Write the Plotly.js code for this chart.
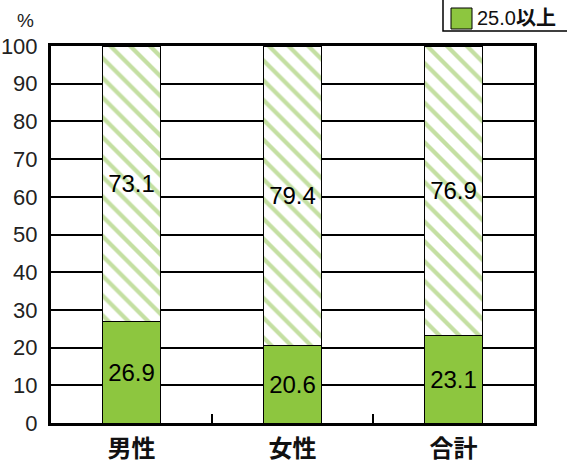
<!DOCTYPE html>
<html><head><meta charset="utf-8">
<script src="https://cdn.plot.ly/plotly-3.0.1.min.js"></script>
<style>html,body{margin:0;padding:0;background:#fff;}#chart{width:567px;height:463px;}</style>
</head><body><div id="chart"></div>
<script>
const categories = ['男性', '女性', '合計'];
const over25 = [26.9, 20.6, 23.1];
const under25 = [73.1, 79.4, 76.9];
const seriesNames = ['25.0以上', '25.0未満'];
const yTicks = [0, 10, 20, 30, 40, 50, 60, 70, 80, 90, 100];

const numFont = {family: 'Liberation Sans, Arial, sans-serif', size: 24, color: '#000'};

const traces = [
  {
    type: 'bar', name: seriesNames[0], x: categories, y: over25,
    text: over25.map(v => v.toFixed(1)), textposition: 'inside', insidetextanchor: 'middle',
    textfont: numFont, textangle: 0, constraintext: 'none', cliponaxis: false,
    marker: {color: '#8dc63f', line: {color: '#000', width: 1}},
    hoverinfo: 'none', showlegend: false
  },
  {
    type: 'bar', name: seriesNames[1], x: categories, y: under25,
    text: under25.map(v => v.toFixed(1)), textposition: 'inside', insidetextanchor: 'middle',
    textfont: numFont, textangle: 0, constraintext: 'none', cliponaxis: false,
    marker: {color: '#ffffff', line: {color: '#000', width: 1},
      pattern: {shape: '\\', fgcolor: '#c4dfa2', bgcolor: '#ffffff', size: 14, solidity: 0.3}},
    hoverinfo: 'none', showlegend: false
  }
];

const W = 567, H = 463, ml = 51, mr = 33, mt = 46, mb = 40;
const pw = W - ml - mr, ph = H - mt - mb;
const px = x => (x - ml) / pw;
const py = y => (H - mb - y) / ph;

const layout = {
  width: W, height: H,
  margin: {l: ml, r: mr, t: mt, b: mb, pad: 0},
  paper_bgcolor: '#fff', plot_bgcolor: '#fff',
  barmode: 'stack', bargap: 0.64,
  showlegend: false,
  font: {family: 'Liberation Sans, Arial, sans-serif', color: '#222'},
  xaxis: {
    type: 'category', showline: true, linecolor: '#000', linewidth: 3, mirror: true,
    ticks: 'inside', tickson: 'boundaries', ticklen: 9, tickwidth: 2, tickcolor: '#000',
    tickfont: {family: 'Noto Sans CJK JP, sans-serif', size: 24, color: '#111', weight: 'bold'},
    ticklabelstandoff: 2,
    showgrid: false, fixedrange: true
  },
  yaxis: {
    range: [0, 100], tickvals: yTicks, ticktext: yTicks.map(String),
    showline: true, linecolor: '#000', linewidth: 3, mirror: true,
    showgrid: true, gridcolor: '#000', gridwidth: 2, zeroline: false,
    ticks: '', ticklabelstandoff: 6,
    tickfont: {family: 'Liberation Sans, Arial, sans-serif', size: 22, color: '#222'},
    fixedrange: true
  },
  shapes: [
    {type: 'rect', xref: 'paper', yref: 'paper', x0: px(443), x1: px(600), y0: py(31), y1: py(-40),
     line: {color: '#000', width: 1.5}, fillcolor: 'rgba(0,0,0,0)', layer: 'above'},
    {type: 'rect', xref: 'paper', yref: 'paper', x0: px(451), x1: px(472), y0: py(29), y1: py(8),
     line: {color: '#000', width: 1}, fillcolor: '#8dc63f', layer: 'above'}
  ],
  annotations: [
    {xref: 'paper', yref: 'paper', x: px(475), y: py(18), xanchor: 'left', yanchor: 'middle',
     text: '25.0<b>以上</b>', showarrow: false,
     font: {family: 'Liberation Sans, Noto Sans CJK JP, sans-serif', size: 20, color: '#111'}},
    {xref: 'paper', yref: 'paper', x: px(25), y: py(20), xanchor: 'center', yanchor: 'middle',
     text: '%', showarrow: false,
     font: {family: 'Liberation Sans, Arial, sans-serif', size: 19, color: '#222'}}
  ]
};

Plotly.newPlot('chart', traces, layout, {staticPlot: true, displayModeBar: false});
</script></body></html>
